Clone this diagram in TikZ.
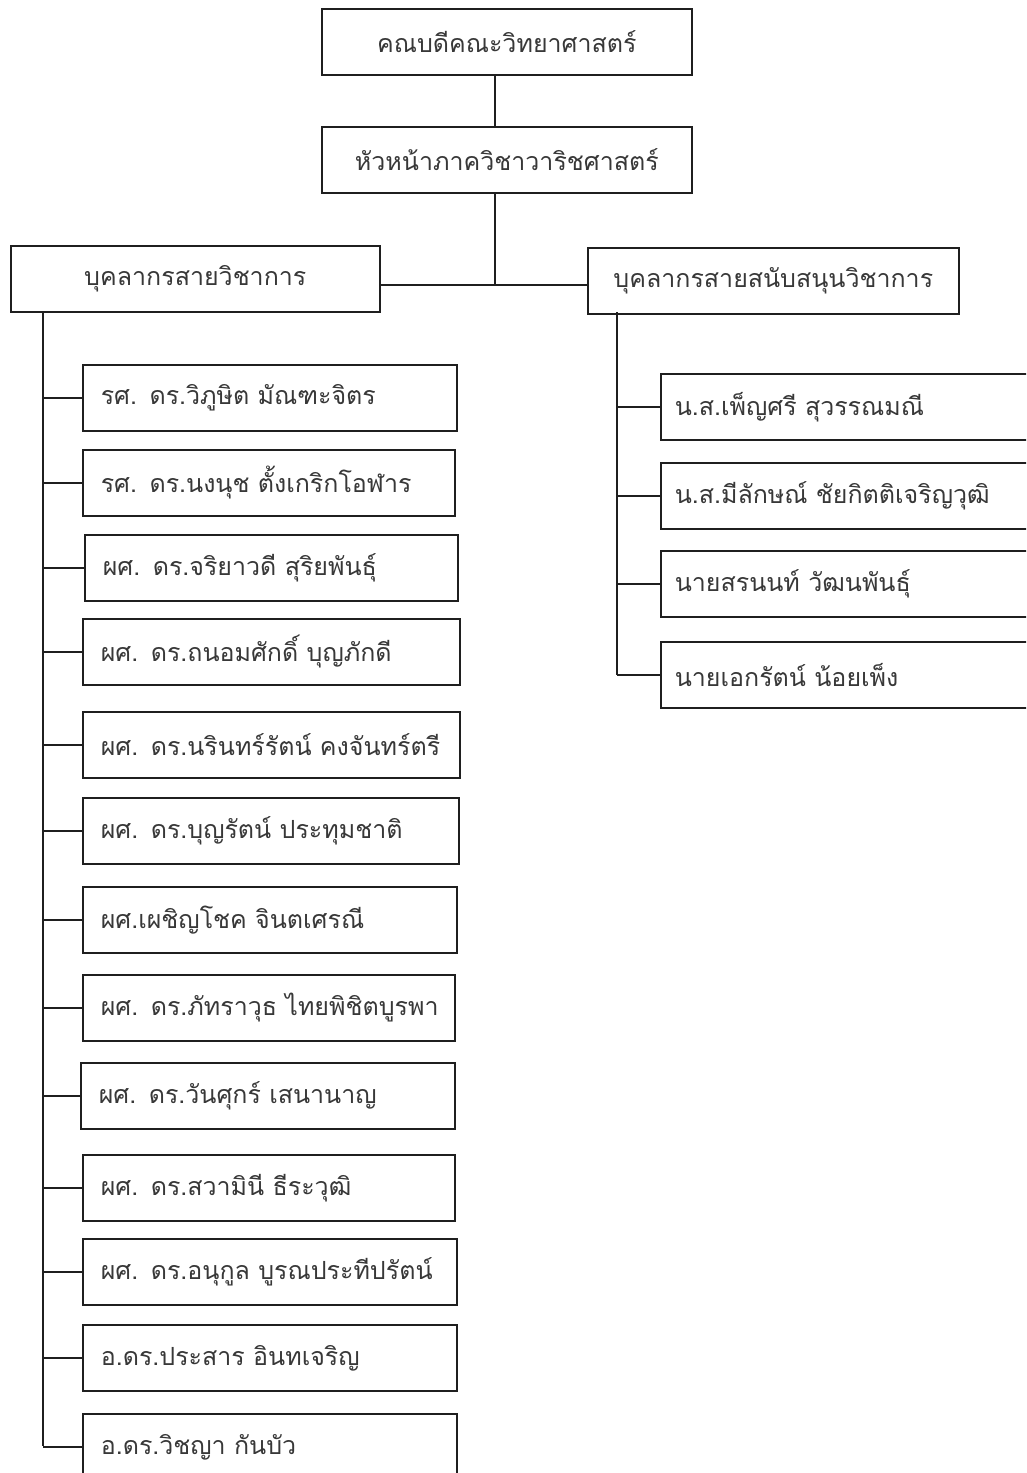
\documentclass[tikz,border=0pt]{standalone}
\usepackage{fontspec}
\newfontfamily\thaifont[Script=Thai, WordSpace=0.8]{Loma}
\begin{document}
\begin{tikzpicture}[x=1pt,y=-1pt,
  every node/.style={font=\thaifont\fontsize{25}{29}\selectfont, text=black!78},
  headbox/.style={draw=black!88, line width=1.6pt, rectangle, minimum height=66pt, inner sep=0pt, anchor=north west},
  staffbox/.style={draw=black!88, line width=1.6pt, rectangle, minimum height=66pt, inner xsep=18pt, inner ysep=0pt, align=left, anchor=north west},
  link/.style={draw=black!88, line width=1.6pt}]
\useasboundingbox (0,0) rectangle (1026,1473);
\clip (0,0) rectangle (1026,1473);
\fill[white] (0,0) rectangle (1026,1473);

% upper levels
\node[headbox, minimum width=370pt] (dean) at (321,8) {คณบดีคณะวิทยาศาสตร์};
\node[headbox, minimum width=370pt] (head) at (321,126) {หัวหน้าภาควิชาวาริชศาสตร์};
\node[headbox, minimum width=369pt] (acad) at (10,245) {บุคลากรสายวิชาการ};
\node[headbox, minimum width=371pt] (supp) at (587,247) {บุคลากรสายสนับสนุนวิชาการ};

\coordinate (hub) at (495,285);
\draw[link] (dean.south -| hub) -- (head.north -| hub);
\draw[link] (head.south -| hub) -- (hub);
\draw[link] (acad.east |- hub) -- (supp.west |- hub);

% academic staff
\foreach \n/\x/\y/\w/\t in {
  a1/82/364/374/{รศ. ดร.วิภูษิต มัณฑะจิตร},
  a2/82/449/372/{รศ. ดร.นงนุช ตั้งเกริกโอฬาร},
  a3/84/534/373/{ผศ. ดร.จริยาวดี สุริยพันธุ์},
  a4/82/618/377/{ผศ. ดร.ถนอมศักดิ์ บุญภักดี},
  a5/82/711/377/{ผศ. ดร.นรินทร์รัตน์ คงจันทร์ตรี},
  a6/82/797/376/{ผศ. ดร.บุญรัตน์ ประทุมชาติ},
  a7/82/886/374/{ผศ.เผชิญโชค จินตเศรณี},
  a8/82/974/372/{ผศ. ดร.ภัทราวุธ ไทยพิชิตบูรพา},
  a9/80/1062/374/{ผศ. ดร.วันศุกร์ เสนานาญ},
  a10/82/1154/372/{ผศ. ดร.สวามินี ธีระวุฒิ},
  a11/82/1238/374/{ผศ. ดร.อนุกูล บูรณประทีปรัตน์},
  a12/82/1324/374/{อ.ดร.ประสาร อินทเจริญ},
  a13/82/1413/374/{อ.ดร.วิชญา กันบัว}}
  \node[staffbox, minimum width=\w pt, text width=\w pt-36pt] (\n) at (\x,\y) {\mbox{\t}};

\coordinate (atop) at (43,311);
\coordinate (abot) at (43,1446);
\draw[link] (atop) -- (abot);
\foreach \n in {a1,a2,a3,a4,a5,a6,a7,a8,a9,a10,a11,a12,a13}
  \draw[link] (\n.west -| atop) -- (\n.west);

% support staff
\foreach \n/\y/\t in {
  s1/373/{น.ส.เพ็ญศรี สุวรรณมณี},
  s2/462/{น.ส.มีลักษณ์ ชัยกิตติเจริญวุฒิ},
  s3/550/{นายสรนนท์ วัฒนพันธุ์},
  s4/641/{นายเอกรัตน์ น้อยเพ็ง}}
  \node[staffbox, inner xsep=14pt, minimum width=380pt, text width=352pt] (\n) at (660,\y) {\mbox{\t}};

\coordinate (stop) at (617,312);
\coordinate (sbot) at (617,675);
\draw[link] (stop) -- (sbot);
\foreach \n in {s1,s2,s3,s4}
  \draw[link] (\n.west -| stop) -- (\n.west);
\end{tikzpicture}
\end{document}
